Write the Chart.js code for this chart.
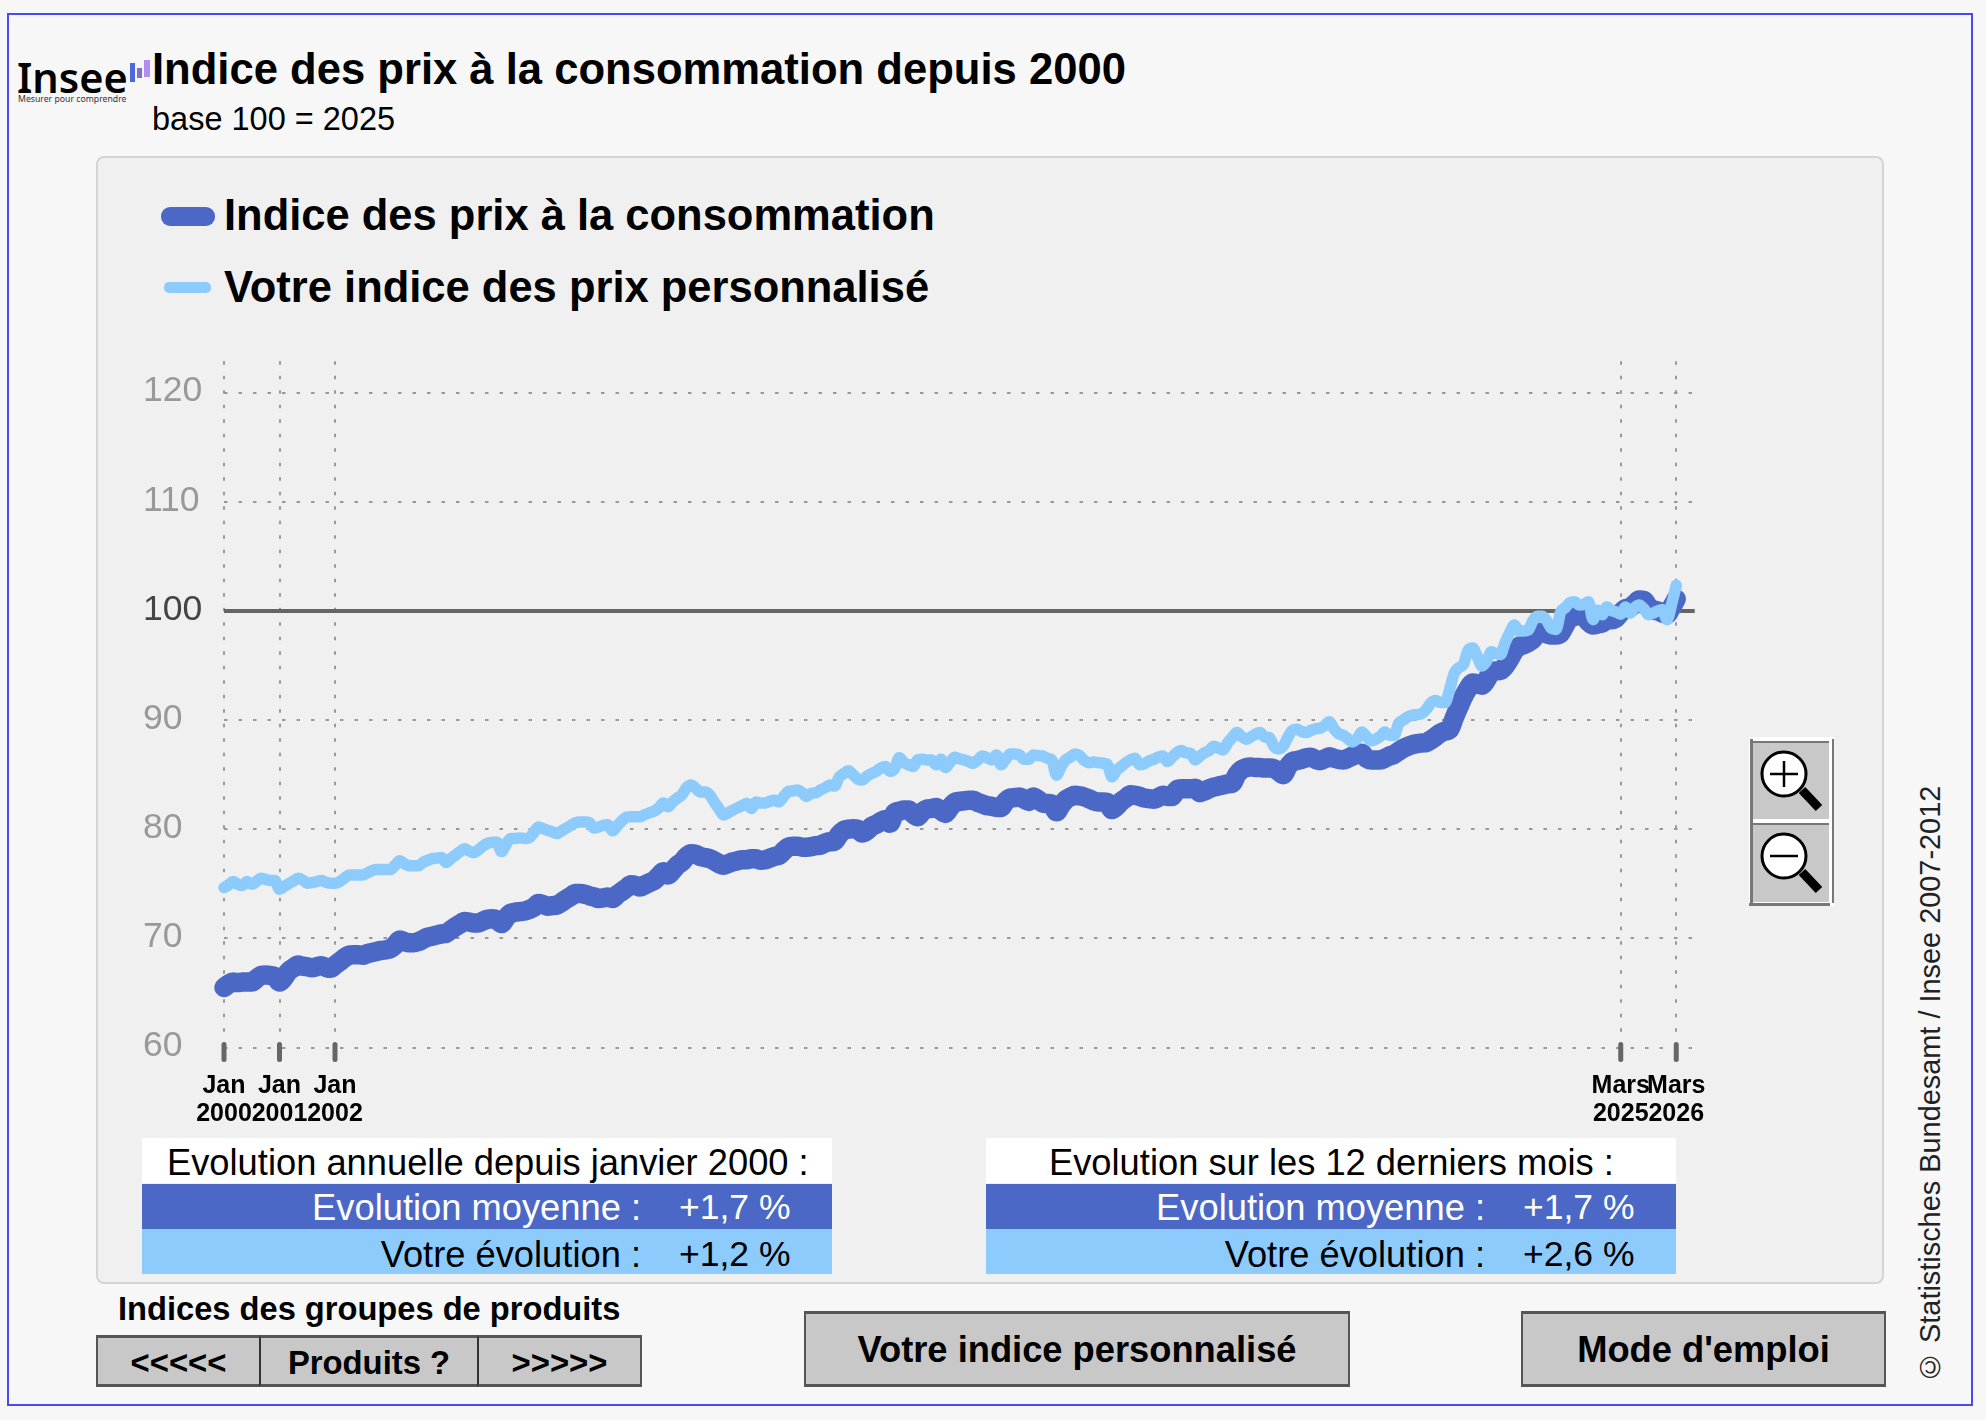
<!DOCTYPE html>
<html lang="fr">
<head>
<meta charset="utf-8">
<title>Indice des prix à la consommation</title>
<script src="https://cdn.jsdelivr.net/npm/chart.js@4"></script>
<style>
    html, body { margin: 0; padding: 0; background: #f7f7f7; }
    body { width: 1986px; height: 1420px; position: relative; overflow: hidden; font-family: "Liberation Sans", Arial, sans-serif; color: #000; }
    .abs { position: absolute; white-space: nowrap; }
    .frame { left: 7px; top: 13px; width: 1962px; height: 1389px; border: 2px solid #4a4af0; }
    .panel { left: 96px; top: 156px; width: 1784px; height: 1124px; background: #f0f0f0; border: 2px solid #d4d4d4; border-radius: 8px; }
    canvas { position: absolute; left: 100px; top: 340px; }
    .row { left: 142px; width: 690px; height: 45px; }
    .row2 { left: 986px; width: 690px; height: 45px; }
    .txt { font-size: 36.3px; line-height: 47px; }
    .first { top: 1px; }
    .last { top: 2px; }
    .val { font-size: 35.5px; }
    .btn { background: #c8c8c8; border-top: 3px solid #555; border-bottom: 3px solid #555; box-sizing: border-box; text-align: center; font-weight: bold; }
    .bar { width: 5px; position: absolute; }
</style>
</head>
<body>

<div class="abs frame"></div>

<!-- logo -->
<div class="abs" style="left:17px;top:54px;font:600 41.5px/46px 'Noto Sans';">Insee</div>
<div class="abs" style="left:18px;top:93px;font:8.7px/12px 'Noto Sans';color:#333;">Mesurer pour comprendre</div>
<div class="bar" style="left:130px;top:63px;height:19px;background:#4c68e0;"></div>
<div class="bar" style="left:137px;top:68px;height:10px;background:#7a6ee0;"></div>
<div class="bar" style="left:144px;top:60px;height:17px;width:6px;background:#b38cf5;"></div>

<div class="abs" style="left:152px;top:44px;font:bold 43.6px/50px 'Liberation Sans';">Indice des prix à la consommation depuis 2000</div>
<div class="abs" style="left:152px;top:99px;font:32.5px/40px 'Liberation Sans';">base 100 = 2025</div>

<div class="abs panel"></div>

<!-- legend -->
<div class="abs" style="left:161px;top:207px;width:54px;height:19px;border-radius:9px;background:#4c68c6;"></div>
<div class="abs" style="left:224px;top:190px;font:bold 43.5px/50px 'Liberation Sans';">Indice des prix à la consommation</div>
<div class="abs" style="left:164px;top:282px;width:47px;height:11px;border-radius:5px;background:#8ccbfb;"></div>
<div class="abs" style="left:224px;top:262px;font:bold 43.5px/50px 'Liberation Sans';">Votre indice des prix personnalisé</div>

<canvas id="chart" width="1640" height="790"></canvas>

<!-- zoom buttons -->
<div class="abs" style="left:1749px;top:737px;width:85px;height:169px;background:#fff;"></div>
<div class="abs" style="left:1752px;top:741px;width:77px;height:78px;background:#c8c8c8;border-top:2px solid #777;box-sizing:border-box;"></div>
<div class="abs" style="left:1752px;top:823px;width:77px;height:79px;background:#c8c8c8;border-top:2px solid #777;box-sizing:border-box;"></div>
<div class="abs" style="left:1750px;top:739px;width:3px;height:164px;background:#777;"></div>
<div class="abs" style="left:1832px;top:739px;width:2px;height:164px;background:#777;"></div>
<div class="abs" style="left:1749px;top:903px;width:81px;height:3px;background:#777;"></div>
<svg class="abs" style="left:1749px;top:737px;" width="85" height="169">
    <g stroke="#000" fill="#fff" stroke-width="3">
        <line x1="53" y1="53" x2="70" y2="71" stroke-width="9"></line>
        <circle cx="35" cy="37" r="22"></circle>
        <line x1="21" y1="37" x2="49" y2="37" stroke-width="2.5"></line>
        <line x1="35" y1="24" x2="35" y2="50" stroke-width="2.5"></line>
        <line x1="53" y1="135" x2="70" y2="153" stroke-width="9"></line>
        <circle cx="35" cy="119" r="22"></circle>
        <line x1="21" y1="119" x2="49" y2="119" stroke-width="2.5"></line>
    </g>
</svg>

<!-- summary tables -->
<div class="abs row txt" style="top:1138px;background:#fff;"><span class="abs first" style="left:25px;">Evolution annuelle depuis janvier 2000 :</span></div>
<div class="abs row txt" style="top:1184px;background:#4c68c6;color:#fff;"><span class="abs" style="right:191px;">Evolution moyenne :</span><span class="abs val" style="left:537px;">+1,7 %</span></div>
<div class="abs row txt" style="top:1229px;background:#8ccbfb;"><span class="abs last" style="right:191px;">Votre évolution :</span><span class="abs val last" style="left:537px;">+1,2 %</span></div>

<div class="abs row2 txt" style="top:1138px;background:#fff;"><span class="abs first" style="left:63px;">Evolution sur les 12 derniers mois :</span></div>
<div class="abs row2 txt" style="top:1184px;background:#4c68c6;color:#fff;"><span class="abs" style="right:191px;">Evolution moyenne :</span><span class="abs val" style="left:537px;">+1,7 %</span></div>
<div class="abs row2 txt" style="top:1229px;background:#8ccbfb;"><span class="abs last" style="right:191px;">Votre évolution :</span><span class="abs val last" style="left:537px;">+2,6 %</span></div>

<!-- buttons -->
<div class="abs" style="left:118px;top:1290px;font:bold 32.65px/38px 'Liberation Sans';">Indices des groupes de produits</div>
<div class="abs btn" style="left:96px;top:1335px;width:164px;height:52px;font-size:32.8px;line-height:49px;border-left:2px solid #555;border-right:1px solid #333;">&lt;&lt;&lt;&lt;&lt;</div>
<div class="abs btn" style="left:259px;top:1335px;width:219px;height:52px;font-size:32.8px;line-height:49px;border-left:2px solid #333;border-right:1px solid #333;">Produits ?</div>
<div class="abs btn" style="left:477px;top:1335px;width:165px;height:52px;font-size:32.8px;line-height:49px;border-left:2px solid #333;border-right:2px solid #555;">&gt;&gt;&gt;&gt;&gt;</div>
<div class="abs btn" style="left:804px;top:1311px;width:546px;height:76px;font-size:36.3px;line-height:72px;border-left:2px solid #555;border-right:2px solid #555;">Votre indice personnalisé</div>
<div class="abs btn" style="left:1521px;top:1311px;width:365px;height:76px;font-size:36.3px;line-height:72px;border-left:2px solid #555;border-right:2px solid #555;">Mode d'emploi</div>

<div class="abs" style="left:1912px;top:791px;height:592px;writing-mode:vertical-rl;transform:rotate(180deg);font:28.9px/36px 'Liberation Sans';color:#222;text-align:left;">© Statistisches Bundesamt / Insee 2007-2012</div>

<script>
// monthly index, January 2000 to March 2026 (one row per year)
const indiceMoyen = [
    65.5, 65.8, 66.0, 65.95, 66.0, 66.0, 66.0, 66.3, 66.6, 66.65, 66.6, 66.5,
    66.0, 66.4, 67.0, 67.3, 67.55, 67.45, 67.4, 67.3, 67.4, 67.5, 67.35, 67.25,
    67.55, 67.85, 68.2, 68.45, 68.5, 68.5, 68.45, 68.6, 68.7, 68.8, 68.9, 68.95,
    69.05, 69.4, 69.85, 69.7, 69.6, 69.6, 69.7, 69.9, 70.1, 70.2, 70.3, 70.4,
    70.45, 70.75, 71.05, 71.3, 71.55, 71.5, 71.4, 71.4, 71.6, 71.75, 71.8, 71.7,
    71.35, 71.9, 72.3, 72.4, 72.45, 72.5, 72.65, 72.85, 73.2, 73.1, 72.95, 73.0,
    73.05, 73.3, 73.6, 73.85, 74.1, 74.1, 74.05, 73.9, 73.8, 73.65, 73.7, 73.8,
    73.65, 74.0, 74.3, 74.6, 74.9, 74.85, 74.7, 74.9, 75.1, 75.3, 75.7, 76.1,
    75.8, 76.2, 76.7, 77.0, 77.5, 77.75, 77.7, 77.5, 77.4, 77.3, 77.1, 76.85,
    76.7, 76.85, 77.0, 77.1, 77.2, 77.2, 77.3, 77.3, 77.15, 77.2, 77.35, 77.5,
    77.6, 78.0, 78.35, 78.45, 78.45, 78.35, 78.35, 78.4, 78.5, 78.55, 78.75, 78.85,
    78.9, 79.5, 79.9, 80.0, 80.05, 80.0, 79.65, 79.85, 80.25, 80.45, 80.7, 80.9,
    80.55, 81.5, 81.65, 81.75, 81.75, 81.4, 81.15, 81.6, 81.85, 81.9, 82.0, 81.7,
    81.45, 82.0, 82.45, 82.55, 82.6, 82.65, 82.65, 82.45, 82.3, 82.15, 82.1, 82.0,
    82.0, 82.55, 82.85, 82.9, 82.95, 82.75, 82.55, 82.95, 82.7, 82.4, 82.35, 82.3,
    81.6, 82.2, 82.7, 82.95, 83.1, 83.05, 82.95, 82.8, 82.6, 82.5, 82.5, 82.45,
    81.8, 82.1, 82.55, 82.85, 83.15, 83.1, 83.0, 82.85, 82.8, 82.75, 82.9, 83.1,
    83.0, 83.0, 83.6, 83.7, 83.7, 83.7, 83.75, 83.35, 83.5, 83.7, 83.85, 83.95,
    84.05, 84.15, 84.2, 85.0, 85.45, 85.65, 85.7, 85.65, 85.65, 85.6, 85.6, 85.55,
    85.3, 85.0, 85.7, 86.2, 86.3, 86.4, 86.55, 86.6, 86.4, 86.28, 86.45, 86.65,
    86.5, 86.4, 86.35, 86.5, 86.7, 86.9, 86.95, 86.5, 86.35, 86.35, 86.35, 86.5,
    86.7, 86.86, 87.15, 87.4, 87.6, 87.75, 87.85, 87.9, 87.95, 88.2, 88.5, 88.8,
    89.0, 89.15, 90.2, 91.2, 92.15, 92.9, 93.4, 93.3, 93.2, 93.7, 94.4, 94.5,
    94.55, 94.95, 95.6, 96.35, 96.75, 96.9, 97.1, 97.4, 98.0, 98.05, 97.9, 97.8,
    97.8, 97.95, 98.7, 99.4, 99.5, 99.6, 99.55, 99.0, 98.7, 98.8, 98.9, 99.2,
    99.2, 99.35, 99.85, 100.2, 100.3, 100.65, 101.0, 100.95, 100.4, 100.1, 100.0, 99.8,
    99.7, 100.35, 101.1
];

const indicePerso = [
    74.65, 74.9, 75.2, 74.95, 74.85, 75.2, 74.95, 75.2, 75.5, 75.4, 75.3, 75.3,
    74.5, 74.75, 75.0, 75.25, 75.5, 75.35, 75.05, 75.1, 75.2, 75.3, 75.15, 75.05,
    75.05, 75.2, 75.5, 75.8, 75.8, 75.8, 75.8, 76.0, 76.2, 76.3, 76.3, 76.3,
    76.3, 76.7, 77.1, 76.85, 76.65, 76.65, 76.65, 76.95, 77.15, 77.3, 77.35, 77.4,
    76.95, 77.3, 77.6, 77.95, 78.2, 78.0, 77.85, 78.1, 78.45, 78.7, 78.8, 78.8,
    77.95, 78.6, 79.15, 79.15, 79.2, 79.15, 79.2, 79.7, 80.2, 80.05, 79.9, 79.75,
    79.6, 79.85, 80.1, 80.35, 80.6, 80.65, 80.65, 80.6, 80.1, 80.2, 80.35, 80.4,
    79.85, 80.3, 80.75, 81.1, 81.15, 81.15, 81.15, 81.35, 81.5, 81.65, 81.95, 82.4,
    82.05, 82.5, 82.85, 83.15, 83.8, 84.05, 83.75, 83.4, 83.4, 83.15, 82.5, 81.9,
    81.3, 81.5, 81.75, 81.95, 82.15, 82.35, 81.9, 82.5, 82.4, 82.4, 82.55, 82.65,
    82.5, 83.0, 83.45, 83.5, 83.6, 83.35, 83.0, 83.3, 83.35, 83.6, 83.8, 84.05,
    83.95, 84.75, 85.1, 85.35, 85.0, 84.6, 84.5, 84.85, 85.1, 85.3, 85.6, 85.75,
    85.3, 85.55, 86.55, 86.1, 85.9, 85.75, 86.35, 86.4, 86.35, 86.35, 85.9, 86.4,
    85.65, 86.15, 86.6, 86.45, 86.35, 86.2, 86.05, 86.35, 86.7, 86.55, 86.35, 86.8,
    85.9, 86.4, 86.9, 86.9, 86.8, 86.4, 86.4, 86.8, 86.75, 86.7, 86.5, 86.35,
    84.95, 85.75, 86.35, 86.6, 86.9, 86.75, 86.3, 86.1, 86.15, 86.1, 86.05, 85.95,
    84.8, 85.4, 85.75, 86.1, 86.35, 86.5, 85.9, 86.0, 86.25, 86.4, 86.6, 86.7,
    86.2, 86.6, 87.0, 87.2, 87.0, 86.95, 86.35, 86.7, 87.0, 87.2, 87.6, 87.45,
    87.25, 87.9, 88.4, 88.85, 88.5, 88.25, 88.45, 88.7, 88.85, 88.45, 88.4, 87.6,
    87.35, 87.6, 88.4, 89.05, 89.15, 88.95, 88.85, 89.05, 89.2, 89.25, 89.5, 89.85,
    89.2, 88.75, 88.6, 88.3, 88.0, 88.3, 88.9, 88.5, 88.1, 88.25, 88.5, 88.9,
    88.6, 88.6, 89.7, 90.0, 90.3, 90.45, 90.5, 90.6, 91.0, 91.6, 91.8, 91.6,
    91.6, 92.8, 94.3, 94.8, 95.1, 96.4, 96.6, 95.8, 94.95, 95.4, 96.25, 96.1,
    96.0, 97.1, 98.0, 98.7, 98.15, 98.15, 98.25, 99.1, 99.5, 99.5, 99.1, 98.4,
    98.3, 99.9, 100.3, 100.75, 100.85, 100.55, 100.6, 100.85, 99.2, 100.05, 99.65, 100.35,
    100.05, 99.9, 99.7, 100.35, 99.8, 100.3, 100.55, 100.2, 99.65, 99.8, 100.0, 100.1,
    99.2, 100.6, 102.35
];

const moisTicks = [0, 12, 24, 302, 314];
const moisLabels = [['Jan', '2000'], ['Jan', '2001'], ['Jan', '2002'], ['Mars', '2025'], ['Mars', '2026']];
const yTicks = [60, 70, 80, 90, 100, 110, 120];
const baseValue = 100;
const xMax = 318;
const yMax = 122.87;

// long dark marks under the labelled months
const tickMarks = {
    id: 'tickMarks',
    beforeDatasetsDraw(chart) {
        const ctx = chart.ctx;
        const x = chart.scales.x;
        const bottom = chart.chartArea.bottom;
        ctx.save();
        ctx.strokeStyle = '#666';
        ctx.lineWidth = 5;
        ctx.lineCap = 'round';
        moisTicks.forEach(m => {
            ctx.beginPath();
            ctx.moveTo(x.getPixelForValue(m), bottom - 3);
            ctx.lineTo(x.getPixelForValue(m), bottom + 12);
            ctx.stroke();
        });
        ctx.restore();
    }
};

const toPoints = values => values.map((v, i) => ({ x: i, y: v }));

new Chart(document.querySelector('#chart'), {
    type: 'line',
    data: {
        datasets: [
            {
                label: 'Votre indice des prix personnalisé',
                data: toPoints(indicePerso),
                borderColor: '#8ccbfb',
                borderWidth: 11.5,
                cubicInterpolationMode: 'monotone',
                clip: false,
                order: 1
            },
            {
                label: 'Indice des prix à la consommation',
                data: toPoints(indiceMoyen),
                borderColor: '#4c68c6',
                borderWidth: 19.5,
                cubicInterpolationMode: 'monotone',
                clip: false,
                order: 2
            },
            {
                label: 'base 100',
                data: [{ x: 0, y: baseValue }, { x: xMax, y: baseValue }],
                borderColor: '#666',
                borderWidth: 4,
                borderCapStyle: 'butt',
                clip: false,
                order: 3
            }
        ]
    },
    options: {
        responsive: false,
        animation: false,
        layout: { padding: { left: 43, right: 45.25, top: 21, bottom: 0 } },
        elements: {
            point: { radius: 0 },
            line: { borderJoinStyle: 'round', borderCapStyle: 'round' }
        },
        plugins: { legend: { display: false }, tooltip: { enabled: false } },
        scales: {
            x: {
                type: 'linear',
                min: 0,
                max: xMax,
                afterBuildTicks: axis => { axis.ticks = moisTicks.map(v => ({ value: v })); },
                afterFit: axis => { axis.height = 82.5; },
                grid: { color: '#999', lineWidth: 2, drawTicks: false },
                border: { display: false, dash: [3.5, 11] },
                ticks: {
                    autoSkip: false,
                    maxRotation: 0,
                    padding: 25,
                    color: '#000',
                    font: { family: 'Liberation Sans', size: 25, weight: 'bold', lineHeight: 1.1 },
                    callback: value => moisLabels[moisTicks.indexOf(value)]
                }
            },
            y: {
                min: 60,
                max: yMax,
                afterBuildTicks: axis => { axis.ticks = yTicks.map(v => ({ value: v })); },
                afterFit: axis => { axis.width = 81; },
                grid: { color: '#999', lineWidth: 2, drawTicks: false },
                border: { display: false, dash: [3.5, 11] },
                ticks: {
                    autoSkip: false,
                    crossAlign: 'far',
                    padding: 0,
                    labelOffset: -1,
                    color: ctx => ctx.tick.value === baseValue ? '#444' : '#999',
                    font: { family: 'Liberation Sans', size: 35.5 }
                }
            }
        }
    },
    plugins: [tickMarks]
});
</script>
</body>
</html>
